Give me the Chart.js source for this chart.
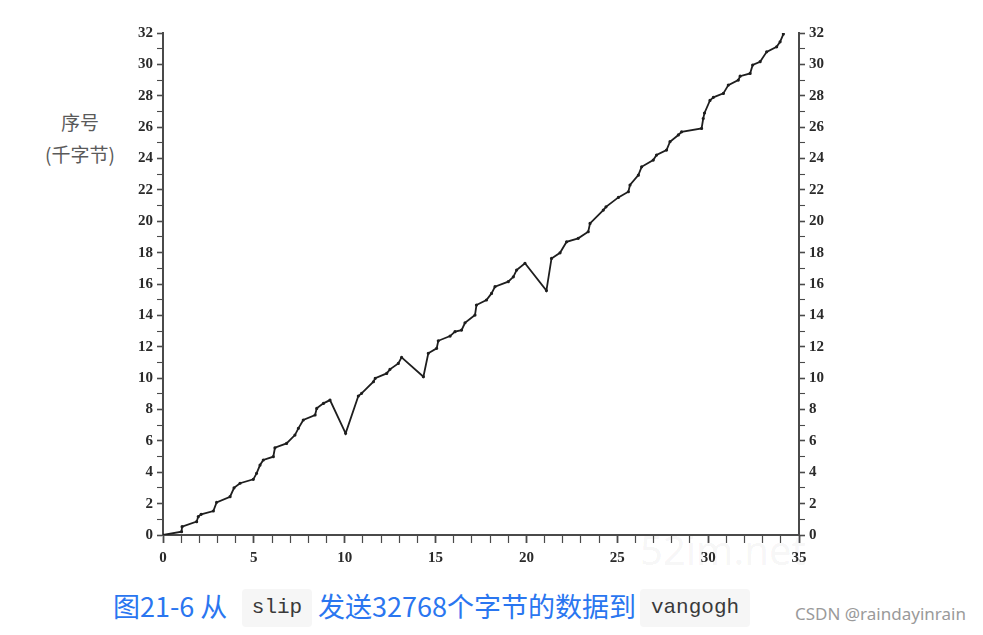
<!DOCTYPE html>
<html>
<head>
<meta charset="utf-8">
<script src="https://cdn.jsdelivr.net/npm/chart.js@4.4.1/dist/chart.umd.min.js"></script>
<style>
  html, body { margin: 0; padding: 0; background: #fff; }
  body { width: 983px; height: 635px; position: relative; overflow: hidden; }
  #wrap { position: absolute; left: 0; top: 0; width: 983px; height: 580px; z-index: 2; }
  .abs { position: absolute; white-space: nowrap; }
  .ytitle { font-family: "Noto Sans CJK SC", sans-serif; font-size: 19px; color: #5a5a5a; text-align: center; width: 100px; left: 30px; line-height: 24px; }
  .cap { font-family: "Noto Sans CJK SC", "Noto Sans", sans-serif; font-size: 27px; color: #2a76f0; line-height: 30px; top: 591px; }
  .code { background: #f6f6f6; border-radius: 4px; font-family: "Liberation Mono", monospace; font-size: 21px; color: #3a3a3a; text-align: center; height: 38px; line-height: 38px; top: 589px; }
  .wm { font-family: "Noto Sans", sans-serif; font-size: 40px; color: rgba(0,0,0,0.055); left: 640px; top: 522px; z-index: 1; }
  .csdn { font-family: "Noto Sans", sans-serif; font-size: 17px; color: #9a9a9a; left: 795px; top: 602px; }
</style>
</head>
<body>
<div class="abs wm">52im.net</div>
<div id="wrap"><canvas id="c" width="983" height="580"></canvas></div>
<div class="abs ytitle" style="top:110px;">序号</div>
<div class="abs ytitle" style="top:142px;">(千字节)</div>
<div class="abs cap" style="left:113px;">图21‑6 从</div>
<div class="abs code" style="left:242px; width:70px;">slip</div>
<div class="abs cap" style="left:318px;">发送32768个字节的数据到</div>
<div class="abs code" style="left:640px; width:110px;">vangogh</div>
<div class="abs csdn">CSDN @raindayinrain</div>
<script>
// time (seconds) of each traced point
const timeSec = [0, 1.02, 1.05, 1.85, 1.94, 2.1, 2.77, 2.95, 3.69, 3.91, 4.24, 4.97, 5.15, 5.34, 5.52,
  6.07, 6.16, 6.8, 7.26, 7.45, 7.72, 8.37, 8.46, 8.83, 9.19, 10.05, 10.75, 10.93, 11.58, 11.68,
  12.31, 12.49, 12.95, 13.13, 14.33, 14.6, 15.06, 15.15, 15.8, 16.07, 16.43, 16.62, 17.17, 17.25,
  17.8, 18.08, 18.27, 19.0, 19.28, 19.46, 19.92, 21.1, 21.38, 21.85, 22.21, 22.85, 23.4, 23.5,
  24.23, 24.38, 25.06, 25.61, 25.7, 26.16, 26.34, 26.98, 27.16, 27.71, 27.9, 28.36, 28.54, 29.64,
  29.73, 29.8, 30.1, 30.29, 30.84, 31.11, 31.66, 31.76, 32.31, 32.45, 32.86, 33.22, 33.77, 33.96, 34.14];
// sequence number (kilobytes) of each traced point
const seqKB = [0, 0.21, 0.53, 0.85, 1.17, 1.32, 1.53, 2.08, 2.44, 3.01, 3.3, 3.55, 3.93, 4.46, 4.78,
  4.99, 5.56, 5.84, 6.37, 6.8, 7.33, 7.65, 8.07, 8.39, 8.6, 6.48, 8.86, 9.03, 9.77, 9.99,
  10.3, 10.56, 10.94, 11.32, 10.09, 11.58, 11.9, 12.38, 12.68, 12.96, 13.06, 13.53, 14.02, 14.66,
  14.98, 15.4, 15.83, 16.15, 16.46, 16.89, 17.32, 15.58, 17.63, 17.99, 18.69, 18.91, 19.33, 19.86,
  20.71, 20.92, 21.52, 21.88, 22.31, 22.94, 23.47, 23.9, 24.22, 24.54, 25.07, 25.5, 25.7, 25.92,
  26.55, 26.9, 27.7, 27.9, 28.15, 28.68, 29.0, 29.25, 29.42, 29.96, 30.17, 30.8, 31.12, 31.44, 31.93];
const xMin = 0, xMax = 35, xStep = 1, xLabelEvery = 5;
const yMin = 0, yMax = 32, yStep = 1, yLabelEvery = 2;

const points = timeSec.map((t, i) => ({ x: t, y: seqKB[i] }));
const tickFont = { family: "'Liberation Serif', 'Times New Roman', serif", size: 15, weight: 'bold' };
const axisColor = '#4a4a4a';

function yAxis(pos, width) {
  return {
    type: 'linear', position: pos, min: yMin, max: yMax,
    ticks: { stepSize: yStep, autoSkip: false, font: tickFont, color: '#2a2a2a', padding: 4,
      callback: v => (v % yLabelEvery === 0 ? v : '') },
    grid: { drawOnChartArea: false, drawTicks: true, tickLength: 6, tickColor: axisColor,
      tickWidth: c => (c.tick && c.tick.value % yLabelEvery === 0 ? 1.6 : 1.1) },
    border: { display: true, color: axisColor, width: 2 },
    afterFit: s => { s.width = width; }
  };
}

new Chart(document.getElementById('c'), {
  type: 'scatter',
  data: { datasets: [{
    data: points, showLine: true, borderColor: '#1e1e1e', backgroundColor: '#1e1e1e',
    borderWidth: 1.8, pointRadius: 0.7, pointHoverRadius: 0.7, tension: 0, yAxisID: 'y'
  }] },
  options: {
    responsive: false, animation: false, devicePixelRatio: 1,
    layout: { padding: { top: 33, left: 0, right: 0, bottom: 0 } },
    plugins: { legend: { display: false }, tooltip: { enabled: false } },
    scales: {
      x: {
        type: 'linear', position: 'bottom', min: xMin, max: xMax,
        ticks: { stepSize: xStep, autoSkip: false, maxRotation: 0, font: tickFont, color: '#2a2a2a', padding: 6,
          callback: v => (v % xLabelEvery === 0 ? v : '') },
        grid: { drawOnChartArea: false, drawTicks: true, tickColor: axisColor, tickLength: 8,
          tickWidth: c => (c.tick && c.tick.value % xLabelEvery === 0 ? 1.8 : 1.2) },
        border: { display: true, color: axisColor, width: 2 },
        afterFit: s => { s.height = 45; }
      },
      y: yAxis('left', 163),
      y2: yAxis('right', 184)
    }
  }
});
</script>
</body>
</html>
